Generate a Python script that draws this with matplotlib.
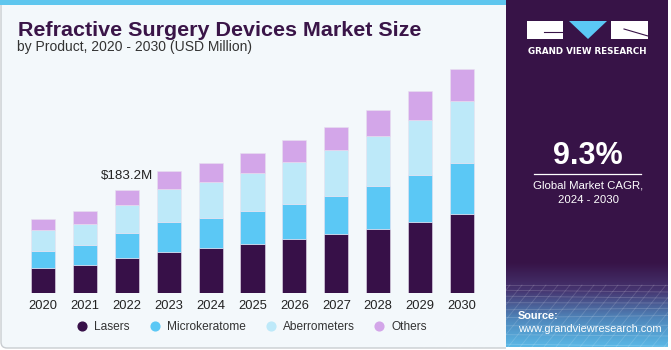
import numpy as np
import matplotlib
matplotlib.use("Agg")
import matplotlib.pyplot as plt
from matplotlib.patches import Rectangle, FancyBboxPatch, Polygon
from matplotlib.colors import LinearSegmentedColormap

years = ["2020", "2021", "2022", "2023", "2024", "2025", "2026", "2027", "2028", "2029", "2030"]
lasers = [45.0, 50.3, 63.3, 74.0, 80.6, 87.2, 96.0, 104.9, 113.8, 126.8, 141.0]
microkeratome = [30.8, 35.0, 43.4, 52.3, 53.9, 59.2, 62.8, 68.1, 77.0, 83.1, 90.7]
aberrometers = [37.4, 38.4, 50.3, 58.7, 63.5, 68.1, 74.7, 81.3, 89.5, 98.4, 110.3]
others = [19.6, 22.1, 26.1, 32.5, 34.3, 35.6, 39.1, 41.4, 46.2, 51.0, 56.4]
series_names = ["Lasers", "Microkeratome", "Aberrometers", "Others"]
colors = ["#371048", "#5bc8f5", "#bde9f9", "#d3a6e9"]
annot_label = "$183.2M"
annot_index = 2
cagr = "9.3%"

W, H = 671, 350
fig = plt.figure(figsize=(W / 100, H / 100), dpi=100)
fig.patch.set_facecolor("white")

# decoration axes in pixel coordinates
bg = fig.add_axes([0, 0, 1, 1])
bg.set_xlim(0, W)
bg.set_ylim(H, 0)
bg.axis("off")
bg.add_patch(FancyBboxPatch((1, -10), 520, 358, boxstyle="round,pad=0,rounding_size=6",
                            facecolor="#f3f8fb", edgecolor="#c9cdd1", linewidth=1.0))
bg.add_patch(Rectangle((0, 0), 506, 5, facecolor="#5ec6ee", edgecolor="none"))

# right panel
panel_left = 506
bg.add_patch(FancyBboxPatch((panel_left, -10), W - 3 - panel_left, 357,
                            boxstyle="round,pad=0,rounding_size=5",
                            facecolor="#371347", edgecolor="none", zorder=1))
grad = np.linspace(0, 1, 100)[:, None]
cmap = LinearSegmentedColormap.from_list("g", ["#371347", "#463570", "#4f86bb", "#5ab8e6"])
bg.imshow(grad, extent=(panel_left, W - 3, 347, 262), cmap=cmap, aspect="auto", zorder=1,
          interpolation="bicubic")
# faint grid
for i in range(14):
    yy = 285 + i * 5 + i * i * 0.3
    bg.plot([panel_left, W - 3], [yy, yy + 2 * np.sin(i)], color="white", alpha=0.18, lw=0.6, zorder=2)
for j in range(-6, 20):
    xx = panel_left + j * 12
    bg.plot([xx + 40, xx - 10], [285, 347], color="white", alpha=0.15, lw=0.6, zorder=2)
bg.add_patch(Rectangle((W - 3, 0), 3, H, facecolor="white", edgecolor="none", zorder=3))
bg.add_patch(Rectangle((panel_left, 347), W - panel_left, 3, facecolor="white", edgecolor="none", zorder=3))

# logo
bg.add_patch(Rectangle((527, 21), 36, 18, facecolor="white", edgecolor="none", zorder=4))
bg.add_patch(Polygon([(569, 21), (607, 21), (588, 39)], closed=True, facecolor="#5bc8f5",
                     edgecolor="none", zorder=4))
bg.add_patch(Rectangle((611, 21), 37, 18, facecolor="white", edgecolor="none", zorder=4))
bg.plot([544, 563], [32, 32], color="#371347", lw=0.8, zorder=5)
bg.plot([624, 648], [29, 36], color="#371347", lw=0.8, zorder=5)
bg.text(587.5, 51.5, "GRAND VIEW RESEARCH", color="white", fontsize=6.3, fontweight="bold",
        ha="center", va="center", family="DejaVu Sans", zorder=5)

bg.text(588, 156, cagr, color="white", fontsize=22, fontweight="bold", ha="center", va="center",
        family="Liberation Sans", zorder=5)
bg.plot([534, 641], [173.5, 173.5], color="white", lw=0.9, zorder=5)
bg.text(588, 185, "Global Market CAGR,", color="white", fontsize=8.2, ha="center", va="center",
        family="Liberation Sans", zorder=5)
bg.text(588, 200, "2024 - 2030", color="white", fontsize=8.2, ha="center", va="center",
        family="Liberation Sans", zorder=5)
bg.text(518, 316, "Source:", color="white", fontsize=7.9, fontweight="bold", ha="left", va="center",
        family="Liberation Sans", zorder=5)
bg.text(518, 329.5, "www.grandviewresearch.com", color="white", fontsize=7.9, ha="left", va="center",
        family="Liberation Sans", zorder=5)

# titles
title = bg.text(18, 35.5, "Refractive Surgery Devices Market Size", color="#3a1548", fontsize=16,
                fontweight="bold", ha="left", va="baseline", family="Liberation Sans")
fig.canvas.draw()
tw = title.get_window_extent().width
title.set_fontsize(16 * 402 / tw)
bg.text(17, 47.5, "by Product, 2020 - 2030 (USD Million)", color="#333333", fontsize=10,
        ha="left", va="center", family="Liberation Sans")

# data axes
pitch = 41.9
x0px = 43
base_px = 293.3
top_px = 50
ax = fig.add_axes([0, 1 - base_px / H, 506 / W, (base_px - top_px) / H])
ax.set_facecolor("none")
ax.set_xlim(-x0px / pitch, (506 - x0px) / pitch)
ax.set_ylim(0, (base_px - top_px) * 183.2 / 103.0)
x = np.arange(len(years))
bottom = np.zeros(len(years))
for vals, c, name in zip([lasers, microkeratome, aberrometers, others], colors, series_names):
    ax.bar(x, vals, width=0.575, bottom=bottom, color=c, edgecolor="#e8e0f0", linewidth=0.4, label=name)
    bottom += np.array(vals)
for s in ax.spines.values():
    s.set_visible(False)
ax.set_yticks([])
ax.set_xticks(x)
ax.set_xticklabels(years, fontsize=9.3, color="#222222", family="Liberation Sans")
ax.tick_params(axis="x", length=0, pad=4.5)
ax.annotate(annot_label, (x[annot_index], bottom[annot_index]), xytext=(0, 10.5),
            textcoords="offset points", ha="center", va="center", fontsize=9.6,
            color="#222222", family="Liberation Sans")

# legend
leg = fig.legend(handles=[plt.Line2D([], [], marker="o", ls="none", color=c, markersize=6.3)
                          for c in colors], labels=series_names, loc="center",
                 bbox_to_anchor=(251.5 / W, 1 - 327 / H), ncol=4, frameon=False,
                 handletextpad=0.5, columnspacing=1.6, handlelength=1.0,
                 prop={"family": "Liberation Sans", "size": 8.6})
for t in leg.get_texts():
    t.set_color("#333333")

fig.savefig("out.png", dpi=100)
